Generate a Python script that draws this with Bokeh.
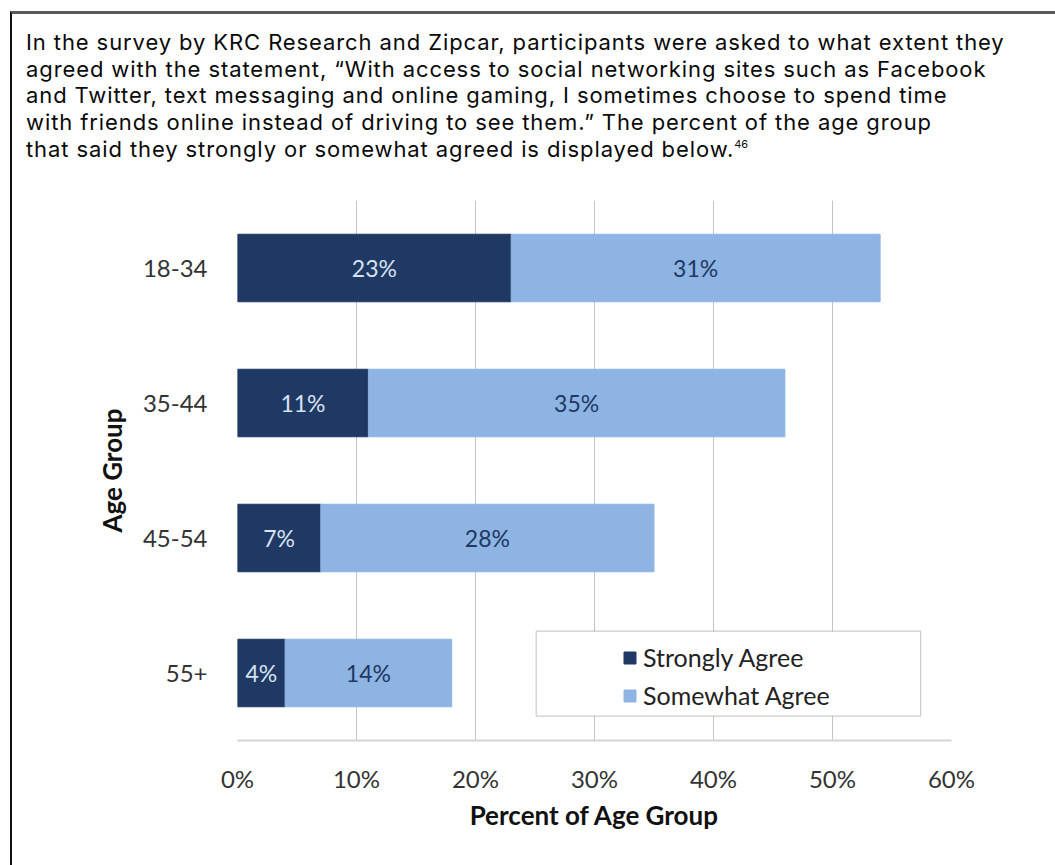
from bokeh.plotting import figure
from bokeh.models import Div, BoxAnnotation, ColumnDataSource, FixedTicker, PrintfTickFormatter, Range1d
from bokeh.layouts import column
from bokeh.embed import file_html
from bokeh.resources import INLINE
from bokeh.core.properties import value

# ---- data ----
age_groups = ["18-34", "35-44", "45-54", "55+"]
strongly_agree = [23, 11, 7, 4]
somewhat_agree = [31, 35, 28, 14]
x_ticks = [0, 10, 20, 30, 40, 50, 60]
series_names = ["Strongly Agree", "Somewhat Agree"]
intro_lines = [
    "In the survey by KRC Research and Zipcar, participants were asked to what extent they",
    "agreed with the statement, \u201cWith access to social networking sites such as Facebook",
    "and Twitter, text messaging and online gaming, I sometimes choose to spend time",
    "with friends online instead of driving to see them.\u201d The percent of the age group",
    "that said they strongly or somewhat agreed is displayed below.",
]
footnote = "46"

DARK = "#203864"
LIGHT = "#8db4e2"
FONT = "Lato"

n = len(age_groups)
ypos = [n - 1 - i for i in range(n)]
totals = [s + w for s, w in zip(strongly_agree, somewhat_agree)]
src = ColumnDataSource(dict(
    y=ypos,
    strong=strongly_agree,
    total=totals,
    strong_mid=[s / 2 for s in strongly_agree],
    some_mid=[s + w / 2 for s, w in zip(strongly_agree, somewhat_agree)],
    strong_lbl=[f"{s}%" for s in strongly_agree],
    some_lbl=[f"{w}%" for w in somewhat_agree],
))

p = figure(width=1043, height=675, output_backend="svg", toolbar_location=None,
           x_range=Range1d(0, 60), y_range=Range1d(-0.5, n - 0.5),
           min_border_left=225, min_border_right=104, min_border_top=10, min_border_bottom=125,
           margin=0)
p.outline_line_color = None
p.background_fill_color = "white"
p.border_fill_color = "white"

# legend frame (drawn before the legend so it sits underneath)
legend_box = BoxAnnotation(left=25.1, right=57.4, bottom=-0.32, top=0.31,
                           fill_color="white", fill_alpha=1.0,
                           line_color="#555555", line_width=1.2)
p.add_layout(legend_box)

p.hbar(y="y", left=0, right="strong", height=0.5, source=src,
       fill_color=DARK, line_color=DARK, legend_label=series_names[0])
p.hbar(y="y", left="strong", right="total", height=0.5, source=src,
       fill_color=LIGHT, line_color=LIGHT, legend_label=series_names[1])

p.text(x="strong_mid", y="y", text="strong_lbl", source=src, text_align="center",
       text_baseline="middle", text_font=value(FONT), text_font_size="23px",
       text_color="#d6e3f3")
p.text(x="some_mid", y="y", text="some_lbl", source=src, text_align="center",
       text_baseline="middle", text_font=value(FONT), text_font_size="23px",
       text_color="#1f3864")

# axes
p.xaxis.ticker = FixedTicker(ticks=x_ticks)
p.xaxis.formatter = PrintfTickFormatter(format="%d%%")
p.xaxis.axis_label = "Percent of Age Group"
p.xaxis.axis_line_color = "#d4d4d4"
p.xaxis.axis_line_width = 2
p.xaxis.major_tick_line_color = None
p.xaxis.minor_tick_line_color = None
p.xaxis.major_label_standoff = 17
p.xaxis.axis_label_standoff = 3

p.yaxis.ticker = FixedTicker(ticks=ypos)
p.yaxis.major_label_overrides = {y: g for y, g in zip(ypos, age_groups)}
p.yaxis.axis_label = "Age Group"
p.yaxis.axis_line_color = None
p.yaxis.major_tick_line_color = None
p.yaxis.minor_tick_line_color = None
p.yaxis.major_label_standoff = 24
p.yaxis.axis_label_standoff = 12

for ax in (p.xaxis, p.yaxis):
    ax.major_label_text_font = FONT
    ax.major_label_text_font_size = "24px"
    ax.major_label_text_color = "#333333"
    ax.axis_label_text_font = FONT
    ax.axis_label_text_font_size = "26px"
    ax.axis_label_text_font_style = "bold"
    ax.axis_label_text_color = "#111111"

p.xgrid.grid_line_color = "#c4c4c4"
p.xgrid.grid_line_width = 1
p.ygrid.grid_line_color = None

leg = p.legend[0]
leg.location = (385, 30)
leg.border_line_alpha = 0
leg.background_fill_alpha = 0
leg.padding = 0
leg.margin = 0
leg.spacing = 8
leg.label_height = 30
leg.glyph_width = 15
leg.glyph_height = 15
leg.label_standoff = 6
leg.label_text_font = FONT
leg.label_text_font_size = "25px"
leg.label_text_color = "#222222"

html = ("<div style=\"font-family:Inter;font-size:22px;line-height:26.7px;letter-spacing:0.9px;"
        "color:#0a0a0a;padding:15px 0 0 14px;white-space:nowrap;\">"
        + "<br>".join(intro_lines)
        + f"<sup style=\"font-size:11px;line-height:0;vertical-align:9px;letter-spacing:0;\">{footnote}</sup></div>")
div = Div(text=html, width=1043, height=176, margin=0)

layout = column(div, p, margin=(11, 0, 0, 10),
                styles={"border-top": "3px solid #595959", "border-left": "2px solid #111111"})

open("out.html", "w").write(file_html(layout, INLINE))
